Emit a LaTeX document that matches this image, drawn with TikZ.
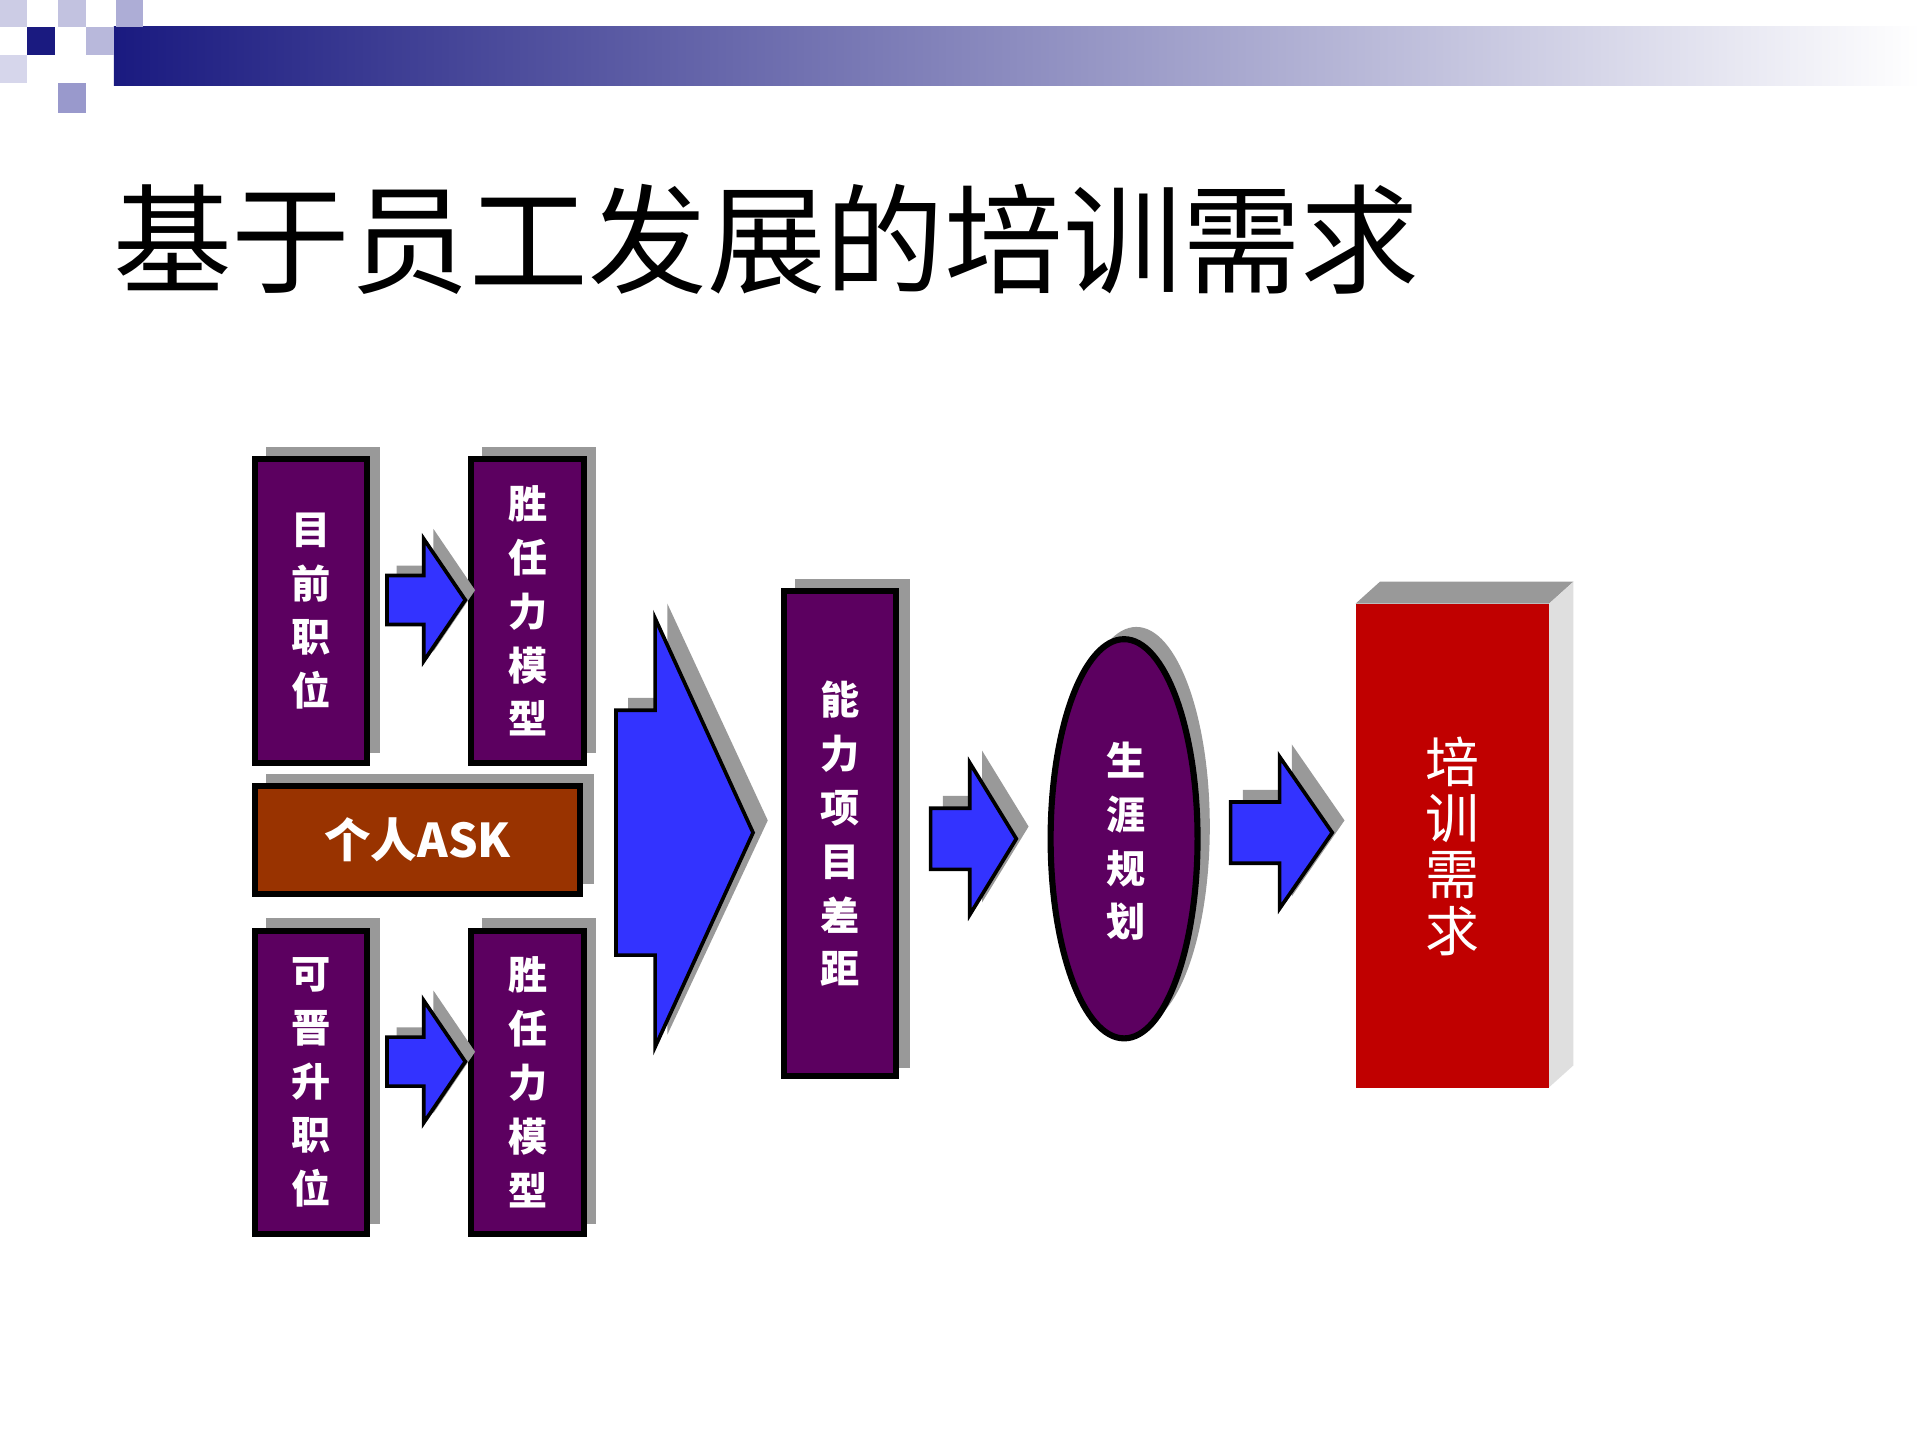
\documentclass[tikz,border=0pt]{standalone}
\usepackage{fontspec}
\setmainfont{Noto Sans CJK SC}
\definecolor{navy}{HTML}{1A1A80}
\definecolor{lav}{HTML}{9999CC}
\definecolor{plum}{HTML}{5C0060}
\definecolor{brick}{HTML}{993300}
\definecolor{ablue}{HTML}{3333FF}
\definecolor{rred}{HTML}{C00000}
\definecolor{shd}{HTML}{999999}
\usetikzlibrary{calc}
\tikzset{
  pbox/.style={draw=black,line width=2.5pt,fill=plum,text=white,font=\fontsize{16}{22}\selectfont\bfseries,align=center,inner sep=0pt},
  arr/.style={draw=black,line width=1.5pt,fill=ablue},
  shadowfill/.style={fill=shd,draw=none}
}
\newcommand{\sarrow}[3]{%
  \fill[shadowfill] ($(#1,#2)+(8,-8)$) ++(0,-20) -- ++(30,0) -- ++(0,-30) -- ++(34,50) -- ++(-34,50) -- ++(0,-30) -- ++(-30,0) -- cycle;
  \draw[arr] (#1,#2) ++(0,-20) -- ++(30,0) -- ++(0,-30) -- ++(34,50) -- ++(-34,50) -- ++(0,-30) -- ++(-30,0) -- cycle;
  \coordinate (#3) at (#1,#2);
}
\begin{document}
\begin{tikzpicture}[x=0.5pt,y=-0.5pt]
\useasboundingbox (0,0) rectangle (1568,1176);
\fill[white] (0,0) rectangle (1568,1176);
\shade[left color=navy,right color=white] (93,22) rectangle (1568,70);
\fill[lav!60] (47,0) rectangle (70,22);
\fill[lav!80] (95,0) rectangle (117,22);
\fill[navy] (22,22) rectangle (45,45);
\fill[lav!70] (70,22) rectangle (93,45);
\fill[lav!40] (0,45) rectangle (22,68);
\fill[lav] (47,68) rectangle (70,92);
\fill[lav!50] (0,0) rectangle (22,22);
\node[anchor=base west,inner sep=0pt,font=\fontsize{48.5}{50}\selectfont] (title) at (92,232) {基于员工发展的培训需求};
\foreach \x/\y/\w/\h in {208/375/92/248, 385/375/92/248, 208/760/92/248, 385/760/92/248, 208/642/267/88, 640/483/93/397}{
  \fill[shadowfill] (\x+9,\y-10) rectangle (\x+\w+10,\y+\h-8);
}
\node[pbox,minimum width=46pt,minimum height=124pt] (b1) at (254,499) {目\\前\\职\\位};
\node[pbox,minimum width=46pt,minimum height=124pt] (b2) at (431,499) {胜\\任\\力\\模\\型};
\node[draw=black,line width=2.5pt,fill=brick,text=white,minimum width=133pt,minimum height=44pt,font=\fontsize{19}{20}\selectfont\bfseries,inner sep=0pt] (ask) at (341,686) {个人ASK};
\node[pbox,minimum width=46pt,minimum height=124pt] (b3) at (254,884) {可\\晋\\升\\职\\位};
\node[pbox,minimum width=46pt,minimum height=124pt] (b4) at (431,884) {胜\\任\\力\\模\\型};
\node[pbox,minimum width=46pt,minimum height=198pt] (gap) at (686,681) {能\\力\\项\\目\\差\\距};
\sarrow{316}{490}{a1}
\sarrow{316}{867}{a2}
\fill[shadowfill] (770,675) ++(0,-25) -- ++(32,0) -- ++(0,-37) -- ++(38,62) -- ++(-38,62) -- ++(0,-37) -- ++(-32,0) -- cycle;
\draw[arr] (760,685) ++(0,-25) -- ++(32,0) -- ++(0,-37) -- ++(38,62) -- ++(-38,62) -- ++(0,-37) -- ++(-32,0) -- cycle;
\fill[shadowfill] (1015,670) ++(0,-25) -- ++(40,0) -- ++(0,-37) -- ++(43,62) -- ++(-43,62) -- ++(0,-37) -- ++(-40,0) -- cycle;
\draw[arr] (1005,680) ++(0,-25) -- ++(40,0) -- ++(0,-37) -- ++(43,62) -- ++(-43,62) -- ++(0,-37) -- ++(-40,0) -- cycle;
\fill[shadowfill] (513,570) -- (545,570) -- (545,493) -- (627,670) -- (545,845) -- (545,770) -- (513,770) -- cycle;
\draw[arr] (503,580) -- (535,580) -- (535,505) -- (615,680) -- (535,855) -- (535,780) -- (503,780) -- cycle;
\fill[shadowfill] (928,675) ellipse [x radius=60,y radius=163];
\draw[line width=2.5pt,fill=plum] (918,685) ellipse [x radius=60,y radius=163];
\node[text=white,font=\fontsize{16}{22}\selectfont\bfseries,align=center] (car) at (920,687) {生\\涯\\规\\划};
\fill[shd] (1107,493) -- (1127,475) -- (1285,475) -- (1265,493) -- cycle;
\fill[gray!25] (1265,493) -- (1285,475) -- (1285,870) -- (1265,888) -- cycle;
\node[fill=rred,minimum width=79pt,minimum height=197.5pt,inner sep=0pt,text=white,font=\fontsize{22}{23}\selectfont,align=center,anchor=north west] (need) at (1107,493) {培\\训\\需\\求};
\end{tikzpicture}
\end{document}
